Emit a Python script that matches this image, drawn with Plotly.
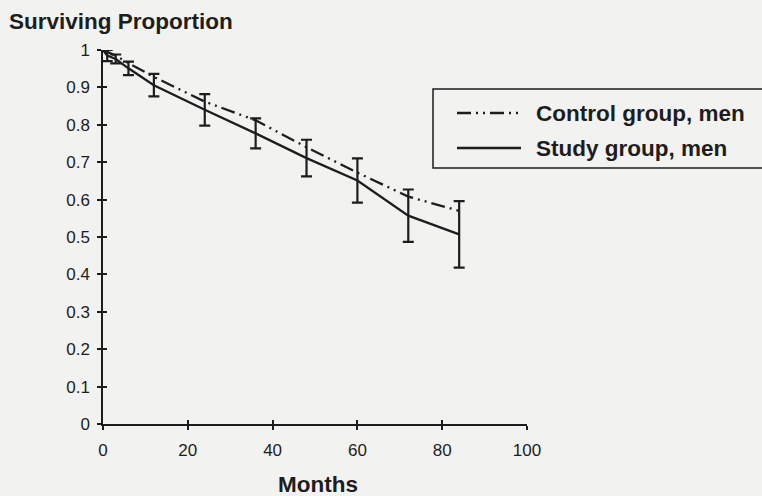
import plotly.graph_objects as go

months = [0, 1, 3, 6, 12, 24, 36, 48, 60, 72, 84]
control_men = [1.0, 0.995, 0.985, 0.965, 0.928, 0.862, 0.812, 0.74, 0.672, 0.608, 0.57]
study_men = [1.0, 0.985, 0.976, 0.951, 0.906, 0.84, 0.777, 0.711, 0.651, 0.557, 0.507]
study_err = [0.0, 0.015, 0.012, 0.018, 0.03, 0.042, 0.04, 0.049, 0.059, 0.07, 0.089]
x_ticks = [0, 20, 40, 60, 80, 100]
y_ticks = [0, 0.1, 0.2, 0.3, 0.4, 0.5, 0.6, 0.7, 0.8, 0.9, 1]
y_tick_text = ["0", "0.1", "0.2", "0.3", "0.4", "0.5", "0.6", "0.7", "0.8", "0.9", "1"]
series_names = ["Control group, men", "Study group, men"]

INK = "#1d1d1d"
BG = "#f2f2f0"
FONT = "Liberation Sans, Arial, sans-serif"
DASHDOT = "14px,5px,2px,5px,2px,5px"

W, H = 762, 496
L, R, T, B = 103, 527, 50, 424


def px(x):
    return (x - L) / (R - L)


def py(y):
    return (B - y) / (B - T)


fig = go.Figure()
fig.add_trace(go.Scatter(
    x=months, y=control_men, mode="lines", name=series_names[0],
    line=dict(color=INK, width=2.3, dash=DASHDOT), showlegend=False,
))
fig.add_trace(go.Scatter(
    x=months, y=study_men, mode="lines", name=series_names[1],
    line=dict(color=INK, width=2.3),
    error_y=dict(type="data", array=study_err, visible=True, color=INK,
                 thickness=2.2, width=5.5),
    showlegend=False,
))
# invisible trace to activate the overlay axes (inner halves of crossing ticks)
fig.add_trace(go.Scatter(x=[None], y=[None], xaxis="x2", yaxis="y2",
                         showlegend=False, hoverinfo="skip"))

axis_common = dict(showgrid=False, zeroline=False, tickcolor=INK,
                   tickfont=dict(family=FONT, size=17, color=INK))
fig.update_layout(
    width=W, height=H,
    margin=dict(l=L, r=W - R, t=T, b=H - B),
    paper_bgcolor=BG, plot_bgcolor=BG,
    xaxis=dict(range=[0, 100], tickvals=x_ticks, ticks="outside", ticklen=4,
               tickwidth=1.5, showline=True, linecolor=INK, linewidth=1.5,
               ticklabelstandoff=6, **axis_common),
    yaxis=dict(range=[0, 1], tickvals=y_ticks, ticktext=y_tick_text,
               ticks="outside", ticklen=4, tickwidth=1.5, showline=True,
               linecolor=INK, linewidth=1.5, ticklabelstandoff=4,
               **axis_common),
    xaxis2=dict(range=[0, 100], tickvals=x_ticks, ticks="inside", ticklen=4,
                tickwidth=1.5, showticklabels=False, overlaying="x",
                anchor="y2", side="bottom", showline=False, showgrid=False,
                zeroline=False, tickcolor=INK),
    yaxis2=dict(range=[0, 1], tickvals=y_ticks, ticks="inside", ticklen=4,
                tickwidth=1.5, showticklabels=False, overlaying="y",
                anchor="x2", side="left", showline=False, showgrid=False,
                zeroline=False, tickcolor=INK),
    showlegend=False,
)

# manual legend box
fig.add_shape(type="rect", xref="paper", yref="paper",
              x0=px(433), x1=px(790), y0=py(168), y1=py(89),
              line=dict(color=INK, width=1.5), fillcolor=BG, layer="above")
fig.add_shape(type="line", xref="paper", yref="paper",
              x0=px(457), x1=px(521), y0=py(113), y1=py(113),
              line=dict(color=INK, width=2.3, dash=DASHDOT))
fig.add_shape(type="line", xref="paper", yref="paper",
              x0=px(457), x1=px(521), y0=py(148), y1=py(148),
              line=dict(color=INK, width=2.3))
for name, yy in zip(series_names, [113, 148]):
    fig.add_annotation(text="<b>%s</b>" % name, xref="paper", yref="paper",
                       x=px(534), y=py(yy), xanchor="left", yanchor="middle",
                       showarrow=False,
                       font=dict(family=FONT, size=22.5, color=INK))

fig.add_annotation(text="<b>Surviving Proportion</b>", xref="paper",
                   yref="paper", x=px(7), y=py(22), xanchor="left",
                   yanchor="middle", showarrow=False,
                   font=dict(family=FONT, size=22.5, color=INK))
fig.add_annotation(text="<b>Months</b>", xref="paper", yref="paper",
                   x=px(318), y=py(484), xanchor="center", yanchor="middle",
                   showarrow=False, font=dict(family=FONT, size=22.5, color=INK))

fig.write_html("out.html")
